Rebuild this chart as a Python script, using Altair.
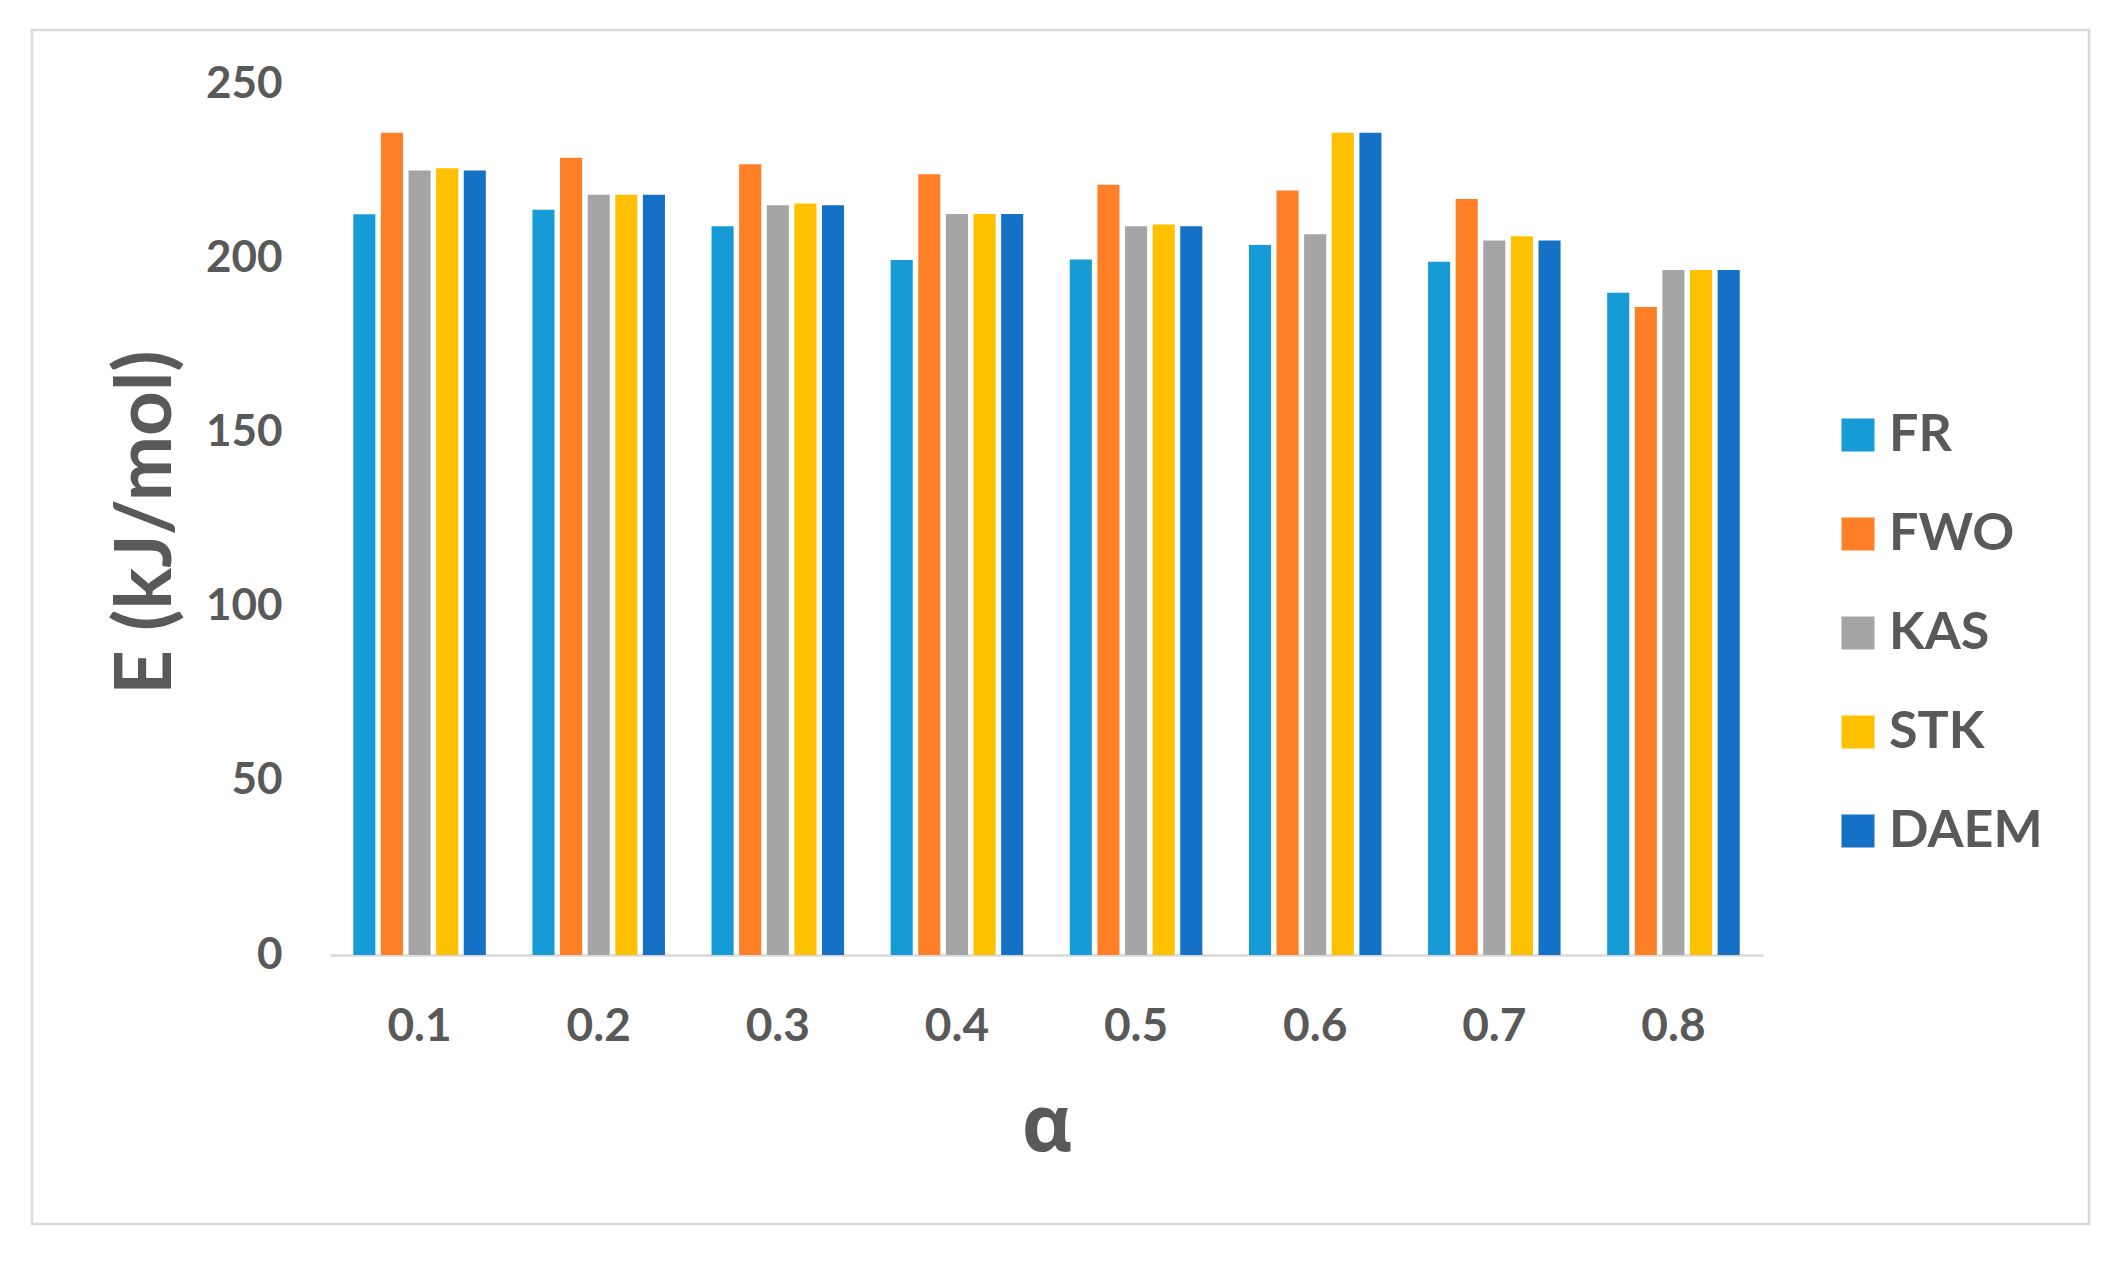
import altair as alt
import pandas as pd

alphas = ["0.1", "0.2", "0.3", "0.4", "0.5", "0.6", "0.7", "0.8"]
methods = ["FR", "FWO", "KAS", "STK", "DAEM"]
colors = ["#179BD7", "#FF7F27", "#A5A5A5", "#FFC000", "#1571C6"]

fr = [212.6, 213.9, 209.2, 199.5, 199.6, 203.8, 199.0, 190.1]
fwo = [236.0, 228.8, 227.0, 224.1, 221.1, 219.4, 217.0, 186.0]
kas = [225.2, 218.2, 215.2, 212.7, 209.2, 206.9, 205.1, 196.6]
stk = [225.8, 218.2, 215.7, 212.7, 209.7, 236.0, 206.3, 196.6]
daem = [225.2, 218.2, 215.2, 212.7, 209.2, 236.0, 205.1, 196.6]

series = {"FR": fr, "FWO": fwo, "KAS": kas, "STK": stk, "DAEM": daem}
rows = []
for m in methods:
    for a, v in zip(alphas, series[m]):
        rows.append({"alpha": a, "method": m, "E": v})
df = pd.DataFrame(rows)

TXT = "#595959"

bars = alt.Chart(df).mark_bar().encode(
    x=alt.X(
        "alpha:N",
        sort=alphas,
        scale=alt.Scale(paddingInner=0.26, paddingOuter=0.13),
        axis=alt.Axis(
            title="α",
            titleFont="Open Sans",
            titleFontSize=78,
            titleFontWeight="bold",
            titleColor=TXT,
            titleBaseline="alphabetic",
            titleY=195,
            labelAngle=0,
            labelFont="Lato",
            labelFontSize=46,
            labelFontWeight="bold",
            labelColor=TXT,
            labelPadding=49,
            ticks=False,
            domainColor="#D9D9D9",
            domainWidth=2.5,
            grid=False,
        ),
    ),
    xOffset=alt.XOffset("method:N", sort=methods,
                        scale=alt.Scale(domain=methods, paddingInner=0.2, paddingOuter=0)),
    y=alt.Y(
        "E:Q",
        scale=alt.Scale(domain=[0, 250], nice=False),
        axis=alt.Axis(
            title="E (kJ/mol)",
            titleFont="Lato",
            titleFontSize=78,
            titleFontWeight="bold",
            titleColor=TXT,
            titleAngle=270,
            titleBaseline="alphabetic",
            titleX=-160,
            titleY=438,
            values=[0, 50, 100, 150, 200, 250],
            labelFont="Lato",
            labelFontSize=44,
            labelFontWeight="bold",
            labelColor=TXT,
            labelPadding=48,
            ticks=False,
            domain=False,
            grid=False,
        ),
    ),
    color=alt.Color(
        "method:N",
        scale=alt.Scale(domain=methods, range=colors),
        legend=alt.Legend(
            title=None,
            orient="none",
            legendX=1502,
            legendY=325,
            symbolType="square",
            symbolSize=1089,
            symbolStrokeWidth=0,
            symbolOpacity=1,
            labelFont="Lato",
            labelFontSize=52,
            labelFontWeight="bold",
            labelColor=TXT,
            labelOffset=5,
            rowPadding=47,
            padding=0,
        ),
    ),
)

frame = alt.Chart(alt.Data(values=[{}])).mark_rect(
    filled=False, stroke="#D9D9D9", strokeWidth=2.5
).encode(
    x=alt.value(-298), x2=alt.value(1759), y=alt.value(-54), y2=alt.value(1140)
)

chart = alt.layer(frame, bars).properties(
    width=1433,
    height=871,
    autosize=alt.AutoSizeParams(type="none"),
    padding={"left": 322, "top": 76, "right": 335, "bottom": 293},
    background="white",
).configure_view(stroke=None)

chart.save("out.html", embed_options={"renderer": "svg", "actions": False})
